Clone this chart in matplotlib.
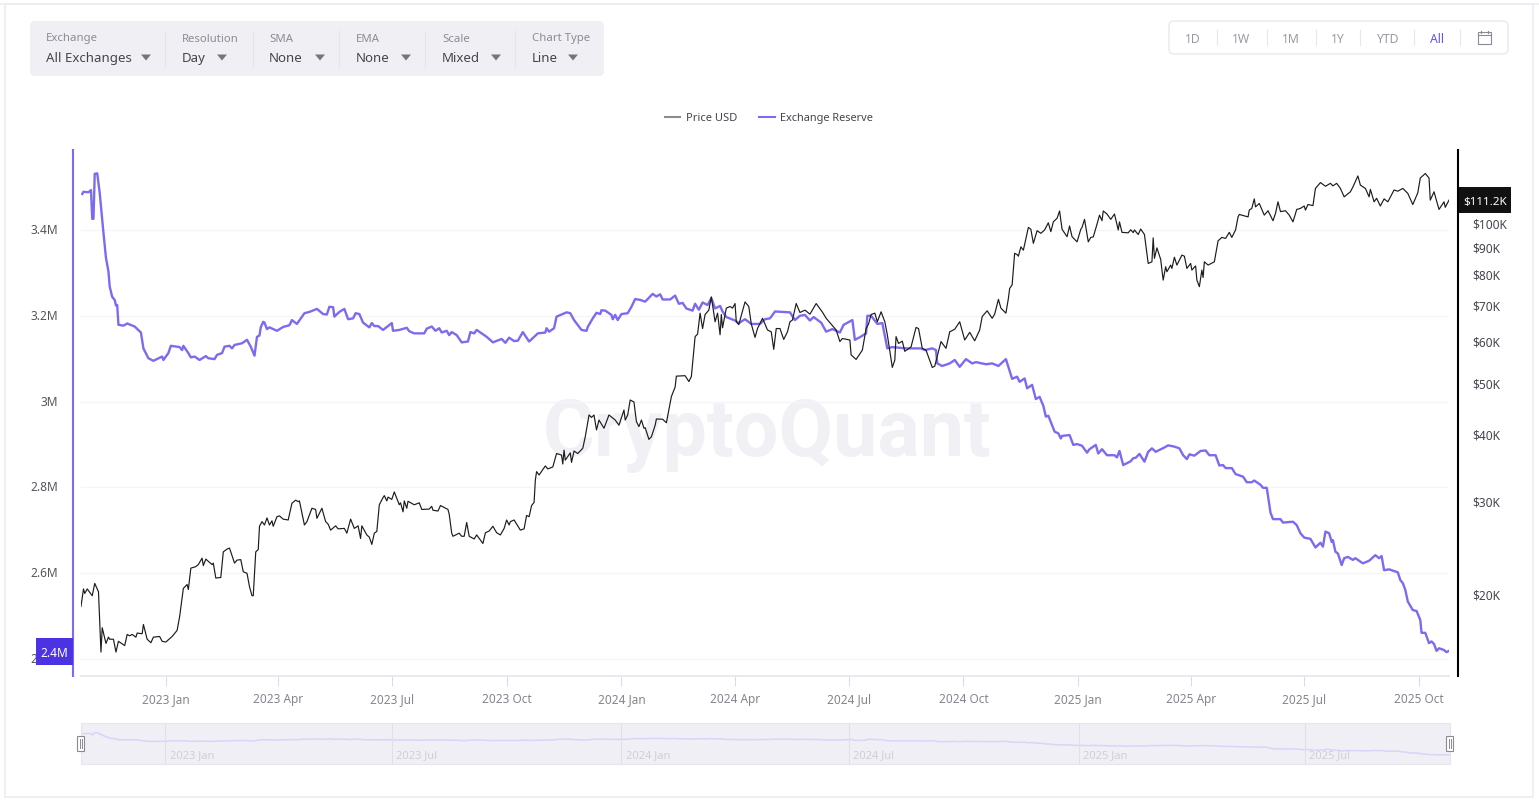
import matplotlib
matplotlib.use("Agg")
import matplotlib.pyplot as plt
import pandas as pd
from matplotlib.patches import FancyBboxPatch, Rectangle, Polygon
from matplotlib.transforms import ScaledTranslation

plt.rcParams["font.family"] = ["Noto Sans", "DejaVu Sans"]

W, H = 1539, 801
PURPLE = "#7b6bf0"

# days counted from the first date on the chart
start_date = pd.Timestamp("2022-10-25")

reserve_days = [
    1, 2, 6, 8, 9, 10, 11, 13, 15, 18, 20, 22, 23, 25, 27, 28, 29, 30, 34, 37,
    43, 48, 50, 54, 58, 65, 66, 70, 72, 79, 81, 82, 86, 88, 91, 95, 100, 102, 107, 109,
    113, 115, 119, 121, 123, 129, 133, 136, 139, 141, 143, 144, 146, 147, 149, 151, 157, 162, 167, 169,
    173, 179, 183, 189, 194, 197, 199, 202, 203, 207, 211, 214, 218, 220, 223, 226, 231, 233, 235, 238,
    242, 249, 250, 255, 261, 263, 267, 275, 277, 281, 284, 287, 289, 293, 295, 297, 301, 305, 310, 312,
    315, 317, 320, 325, 330, 337, 340, 343, 347, 350, 354, 359, 366, 372, 373, 375, 379, 381, 389, 392,
    395, 401, 405, 406, 410, 413, 416, 417, 420, 425, 426, 428, 430, 433, 438, 441, 444, 448, 452, 458,
    461, 464, 466, 472, 476, 479, 482, 485, 490, 492, 495, 498, 502, 505, 508, 512, 514, 517, 524, 527,
    532, 537, 544, 548, 552, 556, 568, 572, 576, 580, 584, 587, 593, 597, 602, 608, 611, 618, 620, 624,
    629, 630, 633, 638, 642, 646, 650, 661, 673, 676, 682, 685, 686, 690, 696, 700, 704, 709, 714, 717,
    725, 730, 735, 741, 746, 750, 752, 756, 758, 762, 765, 768, 771, 773, 775, 780, 783, 785, 786, 792,
    795, 798, 802, 806, 808, 813, 815, 818, 822, 828, 830, 832, 835, 841, 843, 845, 848, 852, 855, 858,
    861, 868, 871, 876, 880, 883, 886, 888, 892, 897, 901, 904, 909, 912, 915, 917, 922, 925, 931, 934,
    938, 940, 945, 947, 950, 953, 955, 961, 963, 971, 974, 977, 980, 985, 989, 993, 995, 997, 1000, 1002,
    1003, 1005, 1007, 1010, 1012, 1015, 1019, 1021, 1024, 1027, 1032, 1037, 1040, 1042, 1044, 1048, 1055, 1057, 1059, 1061,
    1063, 1067, 1070, 1073, 1074, 1077, 1080, 1082, 1084, 1086, 1088, 1092, 1094, 1096,
]
reserve_m = [
    3.484, 3.489, 3.488, 3.493, 3.426, 3.426, 3.531, 3.532, 3.486, 3.393, 3.335, 3.303, 3.268, 3.244, 3.237, 3.224, 3.225, 3.179, 3.177, 3.182,
    3.175, 3.161, 3.124, 3.101, 3.095, 3.105, 3.097, 3.113, 3.130, 3.127, 3.120, 3.130, 3.113, 3.103, 3.105, 3.097, 3.106, 3.101, 3.099, 3.109,
    3.113, 3.128, 3.130, 3.124, 3.132, 3.136, 3.144, 3.128, 3.107, 3.151, 3.154, 3.173, 3.186, 3.184, 3.169, 3.173, 3.165, 3.174, 3.178, 3.190,
    3.181, 3.206, 3.209, 3.216, 3.204, 3.203, 3.221, 3.220, 3.198, 3.209, 3.216, 3.192, 3.194, 3.206, 3.204, 3.184, 3.173, 3.183, 3.176, 3.176,
    3.167, 3.183, 3.165, 3.167, 3.172, 3.164, 3.159, 3.159, 3.170, 3.175, 3.165, 3.171, 3.161, 3.165, 3.155, 3.162, 3.155, 3.138, 3.140, 3.162,
    3.159, 3.167, 3.161, 3.151, 3.138, 3.146, 3.137, 3.149, 3.141, 3.142, 3.162, 3.140, 3.159, 3.161, 3.171, 3.163, 3.171, 3.198, 3.208, 3.206,
    3.190, 3.167, 3.165, 3.174, 3.194, 3.207, 3.204, 3.213, 3.212, 3.202, 3.192, 3.202, 3.190, 3.204, 3.206, 3.221, 3.239, 3.237, 3.233, 3.251,
    3.245, 3.250, 3.238, 3.238, 3.247, 3.228, 3.230, 3.217, 3.212, 3.228, 3.214, 3.231, 3.225, 3.241, 3.217, 3.223, 3.210, 3.197, 3.189, 3.183,
    3.192, 3.181, 3.181, 3.192, 3.194, 3.210, 3.208, 3.190, 3.200, 3.202, 3.189, 3.197, 3.184, 3.163, 3.169, 3.161, 3.179, 3.190, 3.144, 3.150,
    3.159, 3.200, 3.200, 3.181, 3.183, 3.124, 3.127, 3.124, 3.124, 3.120, 3.124, 3.120, 3.089, 3.083, 3.089, 3.097, 3.081, 3.099, 3.089, 3.092,
    3.087, 3.089, 3.083, 3.099, 3.053, 3.058, 3.046, 3.054, 3.031, 3.039, 3.006, 3.011, 2.990, 2.965, 2.967, 2.930, 2.926, 2.914, 2.920, 2.922,
    2.899, 2.901, 2.897, 2.881, 2.889, 2.899, 2.879, 2.889, 2.875, 2.875, 2.870, 2.885, 2.852, 2.861, 2.868, 2.869, 2.878, 2.860, 2.883, 2.891,
    2.883, 2.893, 2.898, 2.895, 2.891, 2.875, 2.866, 2.877, 2.874, 2.885, 2.886, 2.875, 2.875, 2.851, 2.852, 2.845, 2.845, 2.831, 2.825, 2.812,
    2.812, 2.816, 2.806, 2.799, 2.799, 2.741, 2.726, 2.726, 2.718, 2.720, 2.712, 2.693, 2.683, 2.680, 2.660, 2.671, 2.662, 2.697, 2.693, 2.673,
    2.677, 2.650, 2.646, 2.619, 2.635, 2.638, 2.631, 2.635, 2.629, 2.623, 2.629, 2.642, 2.635, 2.640, 2.607, 2.609, 2.602, 2.584, 2.577, 2.561,
    2.534, 2.514, 2.512, 2.491, 2.461, 2.461, 2.437, 2.441, 2.435, 2.419, 2.425, 2.421, 2.416, 2.419,
]

price_days = [
    0, 2, 3, 5, 9, 11, 14, 16, 17, 20, 22, 23, 26, 28, 30, 35, 37, 39, 41, 44,
    45, 49, 50, 53, 56, 58, 63, 65, 68, 73, 77, 79, 82, 85, 86, 88, 92, 94, 97, 98,
    100, 105, 106, 108, 112, 114, 117, 119, 123, 125, 128, 130, 133, 135, 137, 138, 140, 142, 143, 145,
    147, 149, 151, 153, 154, 157, 159, 162, 166, 169, 172, 174, 175, 179, 181, 185, 188, 189, 193, 196,
    198, 200, 204, 206, 211, 213, 216, 219, 222, 224, 225, 229, 231, 233, 235, 237, 239, 242, 243, 245,
    246, 249, 251, 255, 256, 258, 259, 261, 262, 267, 271, 273, 279, 281, 282, 286, 288, 294, 295, 297,
    298, 303, 305, 307, 309, 311, 315, 317, 322, 324, 327, 330, 333, 336, 339, 341, 343, 344, 347, 352,
    355, 357, 359, 361, 363, 364, 365, 367, 372, 374, 378, 381, 385, 386, 387, 388, 392, 393, 395, 398,
    402, 404, 407, 409, 411, 413, 415, 419, 423, 428, 431, 435, 436, 438, 440, 443, 445, 447, 449, 451,
    452, 455, 457, 460, 461, 466, 469, 473, 476, 477, 484, 487, 489, 492, 494, 496, 498, 500, 503, 505,
    506, 508, 510, 512, 513, 514, 517, 520, 522, 524, 525, 527, 532, 535, 537, 540, 542, 546, 550, 553,
    555, 557, 560, 563, 566, 568, 570, 573, 576, 580, 584, 589, 594, 597, 605, 608, 610, 616, 617, 621,
    626, 629, 631, 633, 636, 638, 641, 644, 646, 650, 652, 653, 655, 658, 660, 665, 669, 671, 674, 677,
    682, 684, 689, 693, 696, 700, 704, 708, 712, 716, 720, 722, 726, 730, 732, 735, 737, 741, 743, 744,
    746, 748, 750, 751, 753, 755, 759, 761, 763, 766, 769, 772, 775, 777, 779, 782, 784, 786, 790, 792,
    794, 798, 801, 802, 804, 807, 809, 811, 814, 816, 818, 819, 822, 825, 828, 831, 832, 834, 839, 841,
    843, 844, 847, 849, 852, 855, 858, 859, 860, 862, 865, 867, 869, 870, 873, 874, 876, 878, 882, 884,
    886, 889, 890, 893, 894, 896, 898, 899, 900, 903, 908, 911, 914, 917, 920, 922, 925, 927, 928, 935,
    936, 938, 940, 941, 944, 948, 951, 955, 957, 959, 961, 965, 968, 971, 974, 977, 980, 981, 983, 987,
    989, 993, 997, 1001, 1003, 1006, 1009, 1012, 1017, 1019, 1023, 1025, 1029, 1032, 1033, 1036, 1038, 1041, 1044, 1047,
    1052, 1055, 1059, 1063, 1067, 1071, 1073, 1077, 1080, 1081, 1084, 1088, 1092, 1093, 1096,
]
price_k = [
    19.2, 20.7, 20.3, 20.7, 20.1, 21.2, 20.45, 15.75, 17.5, 16.35, 16.8, 16.65, 16.65, 15.75, 16.5, 16.2, 17.0, 16.9, 17.0, 16.8,
    17.1, 17.05, 17.75, 16.65, 16.4, 16.8, 16.85, 16.5, 16.45, 16.85, 17.3, 18.35, 20.75, 21.1, 20.65, 22.65, 22.8, 23.0, 23.65, 22.9,
    23.55, 23.0, 23.15, 21.7, 21.75, 24.3, 24.6, 24.7, 23.15, 23.45, 23.5, 22.3, 22.15, 20.9, 20.1, 20.1, 24.3, 24.55, 27.15, 27.7,
    27.3, 28.15, 27.3, 27.8, 27.15, 28.3, 28.4, 28.0, 27.9, 30.0, 30.4, 30.2, 30.3, 27.3, 27.7, 29.35, 29.2, 28.1, 29.35, 27.7,
    27.4, 26.7, 27.2, 26.85, 26.9, 26.35, 28.0, 26.9, 27.2, 25.75, 27.2, 26.15, 25.9, 25.1, 26.35, 26.55, 29.8, 30.75, 31.0, 30.3,
    30.8, 30.5, 31.5, 29.8, 30.05, 28.9, 30.3, 29.35, 30.25, 29.8, 30.05, 29.2, 29.25, 29.6, 29.1, 29.0, 29.7, 29.2, 28.6, 26.35,
    26.0, 26.35, 26.0, 26.0, 27.6, 26.0, 25.7, 26.15, 25.2, 26.4, 26.6, 27.15, 26.4, 26.15, 26.9, 27.9, 27.3, 27.7, 27.9, 26.7,
    26.85, 28.45, 28.3, 29.7, 30.1, 33.15, 34.4, 33.9, 35.25, 34.8, 35.1, 37.2, 36.95, 35.55, 37.75, 36.15, 37.3, 35.8, 37.6, 37.2,
    38.05, 40.0, 43.95, 43.5, 43.95, 41.2, 43.0, 41.5, 43.95, 43.0, 42.05, 44.9, 43.0, 43.95, 46.9, 46.5, 42.7, 41.8, 43.0, 41.5,
    41.6, 39.55, 40.0, 42.05, 43.2, 43.15, 42.5, 47.6, 49.6, 52.0, 52.1, 50.8, 51.9, 61.7, 62.4, 68.3, 63.9, 67.9, 69.2, 73.3,
    70.7, 65.8, 68.3, 62.2, 67.9, 64.1, 69.8, 70.3, 69.8, 71.2, 65.8, 65.0, 71.7, 70.3, 65.2, 61.5, 63.9, 66.8, 63.5, 63.0,
    58.4, 63.9, 63.9, 60.95, 63.0, 65.8, 66.3, 71.2, 68.5, 69.2, 68.0, 71.2, 68.6, 66.8, 63.5, 60.4, 61.2, 60.8, 57.0, 55.9,
    58.2, 63.9, 65.2, 67.9, 68.3, 65.8, 68.7, 65.8, 62.2, 54.0, 55.75, 61.7, 59.9, 60.5, 57.9, 59.0, 64.2, 63.9, 58.65, 58.2,
    54.0, 54.3, 60.4, 58.65, 63.0, 63.7, 65.8, 60.8, 62.85, 60.6, 63.5, 67.3, 69.0, 66.8, 68.0, 72.5, 69.8, 68.3, 72.8, 76.0,
    77.2, 88.5, 88.0, 87.4, 91.0, 89.7, 99.0, 98.2, 92.4, 97.6, 96.5, 97.9, 101.0, 97.2, 101.4, 103.0, 106.3, 98.2, 95.1, 99.6,
    95.1, 93.0, 98.2, 99.0, 102.5, 93.0, 94.8, 95.0, 100.4, 104.4, 101.9, 106.3, 104.9, 102.5, 104.9, 97.9, 101.4, 96.9, 96.7, 98.0,
    96.8, 97.9, 96.0, 98.3, 96.0, 84.7, 85.3, 94.6, 86.6, 90.6, 86.2, 78.8, 83.5, 81.7, 84.1, 82.9, 87.0, 84.1, 87.8, 87.4,
    82.9, 84.7, 82.3, 83.8, 78.8, 76.6, 82.3, 79.7, 85.3, 84.1, 85.3, 93.4, 94.8, 94.4, 96.9, 94.8, 97.9, 103.6, 104.7, 103.6,
    106.7, 107.5, 112.0, 108.2, 109.8, 104.4, 106.4, 101.9, 105.2, 110.6, 106.0, 106.4, 104.4, 101.4, 107.0, 107.5, 108.6, 106.7, 109.3, 108.8,
    117.2, 120.2, 118.3, 119.8, 118.5, 119.8, 117.2, 113.0, 115.5, 117.9, 123.7, 118.9, 117.2, 113.0, 116.7, 110.6, 112.3, 108.6, 112.0, 110.6,
    116.4, 115.8, 117.2, 114.7, 109.3, 115.0, 122.6, 125.0, 122.6, 111.4, 115.5, 107.0, 110.6, 108.0, 111.4,
]

reserve_ticks = [2.4, 2.6, 2.8, 3.0, 3.2, 3.4]
reserve_tick_labels = ["2.4M", "2.6M", "2.8M", "3M", "3.2M", "3.4M"]
price_ticks = [20, 30, 40, 50, 60, 70, 80, 90, 100]
price_tick_labels = ["$20K", "$30K", "$40K", "$50K", "$60K", "$70K", "$80K", "$90K", "$100K"]
quarter_dates = pd.to_datetime([
    "2023-01-01", "2023-04-01", "2023-07-01", "2023-10-01", "2024-01-01", "2024-04-01",
    "2024-07-01", "2024-10-01", "2025-01-01", "2025-04-01", "2025-07-01", "2025-10-01",
])
half_year_dates = pd.to_datetime([
    "2023-01-01", "2023-07-01", "2024-01-01", "2024-07-01", "2025-01-01", "2025-07-01",
])
toolbar_names = ["Exchange", "Resolution", "SMA", "EMA", "Scale", "Chart Type"]
toolbar_values = ["All Exchanges", "Day", "None", "None", "Mixed", "Line"]
range_buttons = ["1D", "1W", "1M", "1Y", "YTD", "All"]

reserve_dates = start_date + pd.to_timedelta(reserve_days, unit="D")
price_dates = start_date + pd.to_timedelta(price_days, unit="D")
x_range = (start_date, start_date + pd.Timedelta(days=1096))


def px_axes(x0, y0, x1, y1):
    # rectangle given in image pixels, y measured from the top
    return [x0 / W, 1 - y1 / H, (x1 - x0) / W, (y1 - y0) / H]


def label(date):
    return date.strftime("%Y %b")


fig = plt.figure(figsize=(W / 100, H / 100), dpi=100, facecolor="white")

# page chrome behind the chart
bg = fig.add_axes([0, 0, 1, 1], zorder=0)
bg.set_xlim(0, W)
bg.set_ylim(H, 0)
bg.axis("off")
bg.add_patch(Rectangle((5, 4), 1528, 793, fc="white", ec="#ececf2", lw=1.2))
bg.plot([0, W], [4, 4], color="#ececf2", lw=1.2)
bg.add_patch(FancyBboxPatch((30, 21), 574, 55, boxstyle="round,pad=0,rounding_size=5",
                            fc="#f0f0f4", ec="none"))
name_x = [46, 182, 269, 356, 442, 532]
arrow_x = [146, 222, 320, 406, 496, 573]
for name, value, nx, ax_ in zip(toolbar_names, toolbar_values, name_x, arrow_x):
    bg.text(nx, 37.5, name, fontsize=8.2, color="#8b8b96", va="center_baseline")
    bg.text(nx, 57, value, fontsize=9.55, color="#45454f", va="center_baseline")
    bg.add_patch(Polygon([(ax_ - 5, 54.5), (ax_ + 5, 54.5), (ax_, 60.5)], fc="#75757f", ec="none"))
for sx in [165, 253, 339, 425, 515]:
    bg.plot([sx, sx], [31, 67], color="#e4e4ea", lw=0.8)

bg.add_patch(FancyBboxPatch((1169, 21), 339, 33, boxstyle="round,pad=0,rounding_size=5",
                            fc="white", ec="#e9e9f0", lw=1))
for name, bx in zip(range_buttons, [1193, 1241, 1291, 1338, 1387, 1437]):
    bg.text(bx, 38, name, fontsize=8.8, ha="center", va="center_baseline",
            color="#6a4ff0" if name == "All" else "#9a9aa5")
for sx in [1217, 1266.5, 1315.5, 1360, 1413.5, 1459.5]:
    bg.plot([sx, sx], [30, 45], color="#e6e6ec", lw=0.8)
bg.add_patch(Rectangle((1477.5, 32), 13.5, 12, fc="none", ec="#8a8a94", lw=0.8))
bg.plot([1477.5, 1491], [35, 35], color="#8a8a94", lw=0.8)
bg.plot([1481, 1481], [30.5, 33], color="#8a8a94", lw=0.8)
bg.plot([1487.5, 1487.5], [30.5, 33], color="#8a8a94", lw=0.8)

bg.plot([665, 680], [117, 117], color="#8c8c8c", lw=1.5)
bg.text(686, 117, "Price USD", fontsize=8.0, color="#45454f", va="center_baseline")
bg.plot([759, 775], [117, 117], color=PURPLE, lw=1.5)
bg.text(780, 117, "Exchange Reserve", fontsize=7.9, color="#45454f", va="center_baseline")

bg.text(767, 427, "CryptoQuant", fontsize=57, color="#f0f0f5", ha="center", va="center_baseline",
        family="Roboto", fontweight="bold")

# main chart
ax = fig.add_axes(px_axes(81, 150, 1449, 676), zorder=1)
ax.patch.set_visible(False)
ax.plot(reserve_dates, reserve_m, color=PURPLE, lw=1.7, solid_joinstyle="round")
ax.set_xlim(*x_range)
ax.set_ylim(2.3604, 3.5864)
ax.set_yticks(reserve_ticks, reserve_tick_labels, va="center_baseline")
ax.set_xticks(quarter_dates, [label(d) for d in quarter_dates], va="baseline")
ax.minorticks_off()
ax.grid(axis="y", color="#f5f5f7", lw=1)
ax.set_axisbelow(True)
ax.tick_params(axis="y", length=0, pad=10.8, labelsize=8.6, labelcolor="#55555f")
ax.tick_params(axis="x", length=7, width=0.8, color="#dcdce4", pad=12.2, labelsize=8.5, labelcolor="#85858f")
for side in ["top", "right"]:
    ax.spines[side].set_visible(False)
ax.spines["bottom"].set_color("#e4e4ec")
ax.spines["bottom"].set_linewidth(1.2)
ax.spines["left"].set_position(("outward", 5.8))
ax.spines["left"].set_color(PURPLE)
ax.spines["left"].set_linewidth(1.5)

ax2 = ax.twinx()
ax2.patch.set_visible(False)
ax2.plot(price_dates, price_k, color="#1c1c1c", lw=0.85, solid_joinstyle="round")
ax2.set_yscale("log")
ax2.set_xlim(*x_range)
ax2.set_ylim(14.2, 138.4)
ax2.set_yticks(price_ticks, price_tick_labels, va="center_baseline")
ax2.minorticks_off()
ax2.tick_params(axis="y", which="both", length=0, pad=10.2, labelsize=8.6, labelcolor="#45454f")
for side in ["top", "left", "bottom"]:
    ax2.spines[side].set_visible(False)
ax2.spines["right"].set_position(("outward", 6.5))
ax2.spines["right"].set_color("black")
ax2.spines["right"].set_linewidth(1.5)

# y labels sit a little above their ticks in the reference
for lbl in ax.get_yticklabels():
    lbl.set_transform(lbl.get_transform() + ScaledTranslation(0, 1 / 100, fig.dpi_scale_trans))
for lbl in ax2.get_yticklabels():
    lbl.set_transform(lbl.get_transform() + ScaledTranslation(0, 2 / 100, fig.dpi_scale_trans))

# range slider under the chart
mini = fig.add_axes(px_axes(80.5, 723, 1449.5, 764), zorder=1)
mini.set_facecolor("#efeff5")
mini.plot(reserve_dates, reserve_m, color="#d9d4f8", lw=1.1)
mini.set_xlim(*x_range)
mini.set_ylim(1.966, 4.016)
mini.set_xticks([])
mini.set_yticks([])
for spine in mini.spines.values():
    spine.set_color("#e6e6ee")
    spine.set_linewidth(0.8)
for d in half_year_dates:
    mini.axvline(d, color="#e0e0e8", lw=0.8)
    mini.annotate(label(d), (d, 0), xycoords=("data", "axes fraction"), xytext=(3, 4),
                  textcoords="offset points", fontsize=8, color="#cfcfd6")

# overlays that sit above the lines
top = fig.add_axes([0, 0, 1, 1], zorder=3)
top.set_xlim(0, W)
top.set_ylim(H, 0)
top.axis("off")
top.add_patch(Rectangle((36, 638), 37, 27, fc="#4b32e3", ec="none"))
top.text(54.5, 652, "2.4M", fontsize=8.6, color="white", ha="center", va="center_baseline", fontweight="medium")
top.add_patch(Rectangle((1459, 187), 52, 26, fc="#111111", ec="none"))
top.text(1485, 200.5, "$111.2K", fontsize=8.4, color="white", ha="center", va="center_baseline", fontweight="bold")
for hx in [80.5, 1449.5]:
    top.add_patch(Rectangle((hx - 3.5, 736), 7, 15, fc="white", ec="#8a8a94", lw=0.8))
    top.plot([hx - 1, hx - 1], [739, 748], color="#8a8a94", lw=0.7)
    top.plot([hx + 1, hx + 1], [739, 748], color="#8a8a94", lw=0.7)

fig.savefig("out.png", dpi=100)
